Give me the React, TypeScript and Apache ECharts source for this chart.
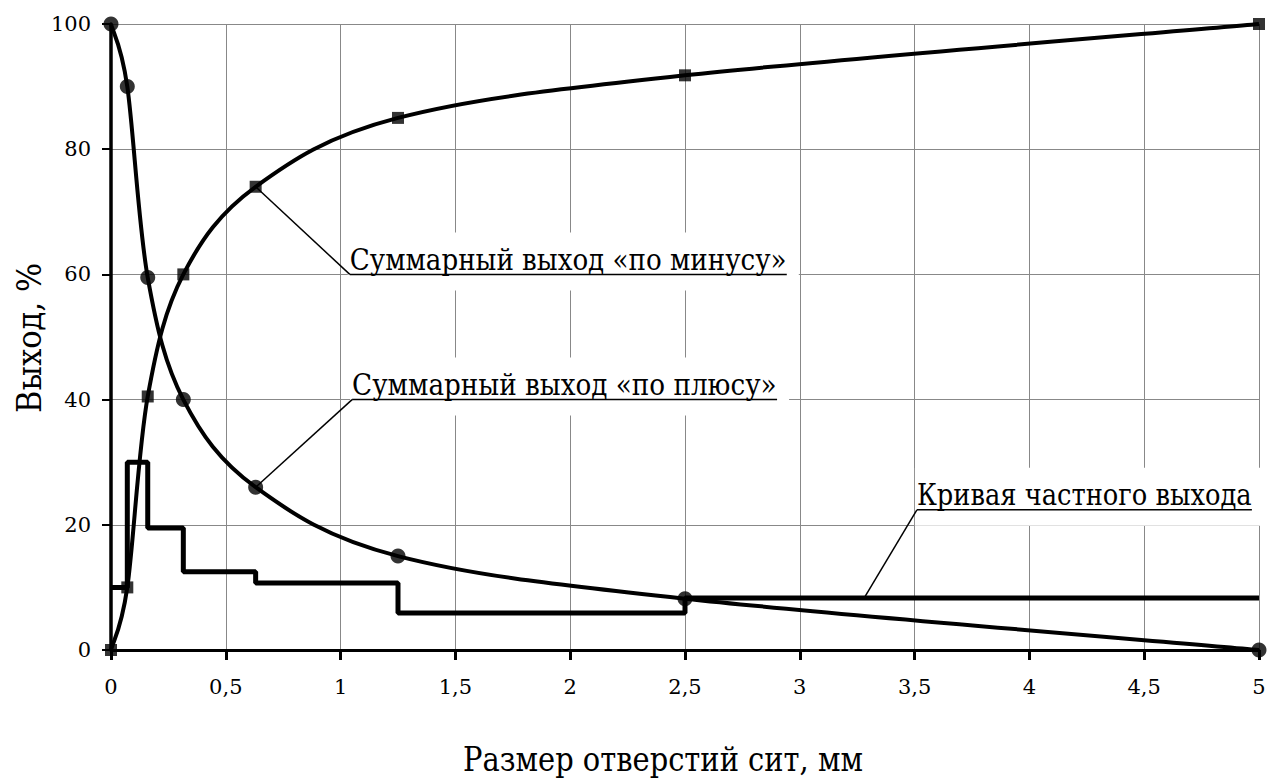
import React, { useEffect, useRef } from "react";
import * as echarts from "echarts";

// Sieve sizes, mm
const sieveSizes = [0, 0.071, 0.16, 0.315, 0.63, 1.25, 2.5, 5];
// Cumulative yield "minus", %
const cumulativeMinus = [0, 10, 40.5, 60, 74, 85, 91.8, 100];
// Cumulative yield "plus", %
const cumulativePlus = [100, 90, 59.5, 40, 26, 15, 8.2, 0];
// Partial yield (step curve), % — value over the interval starting at each sieve size
const partialYield = [10, 30, 19.5, 12.5, 10.7, 5.9, 8.3, 8.3];

const xTitle = "Размер отверстий сит, мм";
const yTitle = "Выход, %";

// Annotations: text, text anchor (data coords, left end of underline), leader target (data coords)
const annotationTexts = [
  "Суммарный выход «по минусу»",
  "Суммарный выход «по плюсу»",
  "Кривая частного выхода",
];
const annotationAnchors: number[][] = [
  [1.04, 60],
  [1.05, 40],
  [3.51, 22.4],
];
const annotationTargets: number[][] = [
  [0.63, 74],
  [0.63, 26],
  [3.28, 8.3],
];
const annotationWidths = [437, 425, 335];

const FAMILY = "DejaVu Serif";
const ANN_FONT = 30;
const TITLE_FONT = 33;

function measure(text: string, size: number) {
  const c = document.createElement("canvas").getContext("2d");
  if (!c) return text.length * size * 0.55;
  c.font = `${size}px "${FAMILY}"`;
  return c.measureText(text).width;
}

// Smooth (Excel-like Catmull-Rom) path through pixel points
function smoothPath(p: number[][]) {
  let d = `M${p[0][0]},${p[0][1]}`;
  for (let i = 0; i < p.length - 1; i++) {
    const p0 = p[Math.max(0, i - 1)];
    const p1 = p[i];
    const p2 = p[i + 1];
    const p3 = p[Math.min(p.length - 1, i + 2)];
    const c1x = p1[0] + (p2[0] - p0[0]) / 6;
    const c1y = p1[1] + (p2[1] - p0[1]) / 6;
    const c2x = p2[0] - (p3[0] - p1[0]) / 6;
    const c2y = p2[1] - (p3[1] - p1[1]) / 6;
    d += ` C${c1x},${c1y} ${c2x},${c2y} ${p2[0]},${p2[1]}`;
  }
  return d;
}

function curveSeries(ys: number[]) {
  return {
    type: "custom",
    data: [[sieveSizes[0], ys[0]]],
    clip: false,
    silent: true,
    z: 3,
    renderItem: (_params: any, api: any) => {
      const pts = sieveSizes.map((x, i) => api.coord([x, ys[i]]));
      return {
        type: "path",
        shape: { pathData: smoothPath(pts) },
        style: { fill: "none", stroke: "#000", lineWidth: 4 },
      };
    },
  };
}

export default function App() {
  const ref = useRef<HTMLDivElement>(null);
  useEffect(() => {
    if (!ref.current) return;
    const chart = echarts.init(ref.current, undefined, { renderer: "svg" });
    const pts = (ys: number[]) => sieveSizes.map((x, i) => [x, ys[i]]);
    chart.setOption({
      animation: false,
      backgroundColor: "#fff",
      textStyle: { fontFamily: FAMILY },
      grid: { left: 111, right: 10, top: 24, bottom: 133 },
      xAxis: {
        type: "value",
        min: 0,
        max: 5,
        interval: 0.5,
        axisLine: { lineStyle: { color: "#000", width: 3 } },
        axisTick: { show: true, length: 10, lineStyle: { color: "#000", width: 3 } },
        axisLabel: {
          margin: 26,
          color: "#000",
          fontFamily: FAMILY,
          fontSize: 21,
          formatter: (v: number) => String(v).replace(".", ","),
        },
        splitLine: { show: true, lineStyle: { color: "#888", width: 1 } },
      },
      yAxis: {
        type: "value",
        min: 0,
        max: 100,
        interval: 20,
        axisLine: { show: true, lineStyle: { color: "#000", width: 3.5 } },
        axisTick: { show: true, length: 9, lineStyle: { color: "#000", width: 2 } },
        axisLabel: {
          margin: 20,
          color: "#000",
          fontFamily: FAMILY,
          fontSize: 21,
        },
        splitLine: { show: true, lineStyle: { color: "#888", width: 1 } },
      },
      series: [
        {
          type: "line",
          data: pts(partialYield),
          step: "end",
          showSymbol: false,
          symbol: "none",
          lineStyle: { color: "#000", width: 5 },
          z: 3,
        },
        curveSeries(cumulativeMinus),
        curveSeries(cumulativePlus),
        {
          type: "scatter",
          data: pts(cumulativeMinus),
          symbol: "rect",
          symbolSize: 12,
          clip: false,
          itemStyle: { color: "#000" },
          z: 4,
        },
        {
          type: "scatter",
          data: pts(cumulativePlus),
          symbol: "circle",
          symbolSize: 15,
          clip: false,
          itemStyle: { color: "#000" },
          z: 4,
        },
      ],
    });

    const elements: any[] = [];
    annotationTexts.forEach((text, i) => {
      const [ax, ay] = chart.convertToPixel({ gridIndex: 0 }, annotationAnchors[i]) as number[];
      const [tx, ty] = chart.convertToPixel({ gridIndex: 0 }, annotationTargets[i]) as number[];
      const w = annotationWidths[i];
      const sx = w / measure(text, ANN_FONT);
      elements.push({
        type: "rect",
        silent: true,
        z: 1,
        shape: { x: ax - 2, y: ay - 42, width: w + 14, height: 58 },
        style: { fill: "#fff" },
      });
      elements.push({
        type: "line",
        silent: true,
        z: 2,
        shape: { x1: tx, y1: ty, x2: ax, y2: ay },
        style: { stroke: "#000", lineWidth: 1.5 },
      });
      elements.push({
        type: "line",
        silent: true,
        z: 2,
        shape: { x1: ax, y1: ay, x2: ax + w, y2: ay },
        style: { stroke: "#000", lineWidth: 1.5 },
      });
      elements.push({
        type: "text",
        silent: true,
        z: 2,
        x: ax,
        y: ay - 15,
        scaleX: sx,
        style: {
          text,
          fill: "#000",
          fontSize: ANN_FONT,
          fontFamily: FAMILY,
          align: "left",
          verticalAlign: "middle",
        },
      });
    });
    elements.push({
      type: "text",
      silent: true,
      x: 663,
      y: 759,
      scaleX: 400 / measure(xTitle, TITLE_FONT),
      style: {
        text: xTitle,
        fill: "#000",
        fontSize: TITLE_FONT,
        fontFamily: FAMILY,
        align: "center",
        verticalAlign: "middle",
      },
    });
    elements.push({
      type: "text",
      silent: true,
      x: 30,
      y: 338,
      rotation: Math.PI / 2,
      scaleX: 150 / measure(yTitle, TITLE_FONT),
      style: {
        text: yTitle,
        fill: "#000",
        fontSize: TITLE_FONT,
        fontFamily: FAMILY,
        align: "center",
        verticalAlign: "middle",
      },
    });
    chart.setOption({ graphic: { elements } });

    return () => chart.dispose();
  }, []);
  return <div ref={ref} style={{ width: 1269, height: 783, position: "absolute", left: 0, top: 0 }} />;
}
